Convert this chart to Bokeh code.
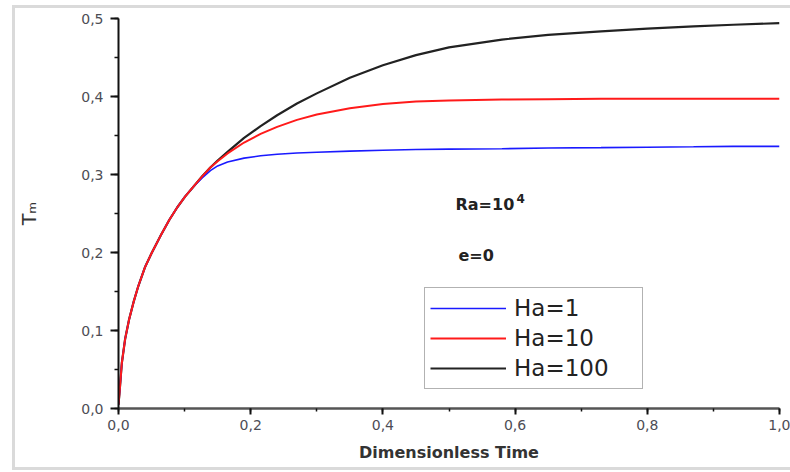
from bokeh.plotting import figure
from bokeh.models import (Legend, LegendItem, Label, SingleIntervalTicker,
                          CustomJSTickFormatter, Range1d, InlineStyleSheet)
from bokeh.embed import file_html
from bokeh.resources import INLINE

# Dimensionless time
t = [0, 0.002, 0.005, 0.01, 0.016, 0.023, 0.03, 0.04, 0.05, 0.064, 0.077, 0.089, 0.101, 0.114,
     0.127, 0.139, 0.15, 0.165, 0.19, 0.215, 0.24, 0.27, 0.3, 0.35, 0.4, 0.45, 0.5, 0.58, 0.65,
     0.73, 0.8, 0.87, 0.93, 1.0]
# Mean temperature for each Hartmann number
ha1 = [0.005, 0.025, 0.058, 0.089, 0.114, 0.137, 0.157, 0.181, 0.199, 0.222, 0.242, 0.258, 0.272, 0.285,
       0.296, 0.305, 0.311, 0.316, 0.321, 0.324, 0.326, 0.3275, 0.3285, 0.330, 0.331, 0.332, 0.3325,
       0.333, 0.334, 0.3345, 0.335, 0.3355, 0.336, 0.336]
ha10 = [0.005, 0.025, 0.058, 0.089, 0.114, 0.137, 0.157, 0.181, 0.199, 0.222, 0.242, 0.258, 0.272, 0.285,
        0.298, 0.309, 0.317, 0.327, 0.341, 0.352, 0.361, 0.370, 0.377, 0.385, 0.3905, 0.3935, 0.395,
        0.396, 0.3966, 0.397, 0.397, 0.397, 0.397, 0.397]
ha100 = [0.005, 0.025, 0.058, 0.089, 0.114, 0.137, 0.157, 0.181, 0.199, 0.222, 0.242, 0.258, 0.272, 0.285,
         0.298, 0.309, 0.318, 0.329, 0.347, 0.362, 0.376, 0.391, 0.404, 0.424, 0.440, 0.453, 0.463,
         0.473, 0.479, 0.4835, 0.487, 0.490, 0.492, 0.494]

labels = ["Ha=1", "Ha=10", "Ha=100"]
colors = ["#1a1aff", "#ff1a1a", "#222222"]

FONT = "DejaVu Sans"

p = figure(width=790, height=472, output_backend="svg", toolbar_location=None,
           x_range=Range1d(0, 1), y_range=Range1d(0, 0.5), title=None,
           min_border_left=118, min_border_right=11, min_border_top=18, min_border_bottom=64)
p.outline_line_color = None
p.grid.visible = False
p.background_fill_color = "white"
p.border_fill_color = "white"

# light outer frame of the original figure
p.stylesheets = [InlineStyleSheet(css="""
:host { position: relative; }
:host::after {
  content: ""; position: absolute; left: 12px; top: 5px; width: 800px; height: 459px;
  border: 3px solid #dadada; pointer-events: none; box-sizing: content-box;
}
""")]

r3 = p.line(t, ha100, line_color=colors[2], line_width=2.2)
r1 = p.line(t, ha1, line_color=colors[0], line_width=1.6)
r2 = p.line(t, ha10, line_color=colors[1], line_width=2)

fmt = CustomJSTickFormatter(code="return tick.toFixed(1).replace('.', ',');")

xa = p.xaxis[0]
xa.ticker = SingleIntervalTicker(interval=0.2, num_minor_ticks=2)
xa.formatter = fmt
xa.axis_label = "Dimensionless Time"
xa.axis_label_text_font = FONT
xa.axis_label_text_font_style = "bold"
xa.axis_label_text_font_size = "16px"
xa.axis_label_text_color = "#333333"
xa.axis_label_standoff = 10
xa.major_label_text_font = FONT
xa.major_label_text_font_size = "14px"
xa.major_label_text_color = "#4d4d55"
xa.major_label_standoff = 5
xa.axis_line_color = "#555555"
xa.axis_line_width = 2.5
xa.major_tick_line_color = "#111111"
xa.major_tick_line_width = 2
xa.major_tick_out = 6
xa.major_tick_in = 0
xa.minor_tick_line_color = "#111111"
xa.minor_tick_line_width = 1.5
xa.minor_tick_out = 3
xa.minor_tick_in = 0

ya = p.yaxis[0]
ya.ticker = SingleIntervalTicker(interval=0.1, num_minor_ticks=2)
ya.formatter = fmt
ya.axis_label = "T\u2098"
ya.axis_label_text_font = FONT
ya.axis_label_text_font_style = "normal"
ya.axis_label_text_font_size = "19px"
ya.axis_label_text_color = "#333333"
ya.axis_label_standoff = 38
ya.major_label_text_font = FONT
ya.major_label_text_font_size = "14px"
ya.major_label_text_color = "#4d4d55"
ya.major_label_standoff = 7
ya.axis_line_color = "#111111"
ya.axis_line_width = 2
ya.major_tick_line_color = "#111111"
ya.major_tick_line_width = 2
ya.major_tick_out = 8
ya.major_tick_in = 0
ya.minor_tick_line_color = "#111111"
ya.minor_tick_line_width = 1.5
ya.minor_tick_out = 4
ya.minor_tick_in = 0

legend = Legend(items=[LegendItem(label=labels[0], renderers=[r1]),
                       LegendItem(label=labels[1], renderers=[r2]),
                       LegendItem(label=labels[2], renderers=[r3])],
                location=(306, 19), margin=0, padding=5, spacing=0,
                glyph_width=76, glyph_height=30, label_height=30, label_width=123,
                label_standoff=8, label_text_font=FONT, label_text_font_size="23px",
                label_text_color="#222222", border_line_color="#666666",
                border_line_width=1.2, background_fill_color="white", background_fill_alpha=1)
p.add_layout(legend)

p.add_layout(Label(x=337, y=204, x_units="screen", y_units="screen", text="Ra=10",
                   text_font=FONT, text_font_style="bold", text_font_size="16px",
                   text_baseline="middle", text_color="#222222"))
p.add_layout(Label(x=398, y=210, x_units="screen", y_units="screen", text="4",
                   text_font=FONT, text_font_style="bold", text_font_size="12px",
                   text_baseline="middle", text_color="#222222"))
p.add_layout(Label(x=340, y=153, x_units="screen", y_units="screen", text="e=0",
                   text_font=FONT, text_font_style="bold", text_font_size="16px",
                   text_baseline="middle", text_color="#222222"))

open("out.html", "w").write(file_html(p, INLINE))
